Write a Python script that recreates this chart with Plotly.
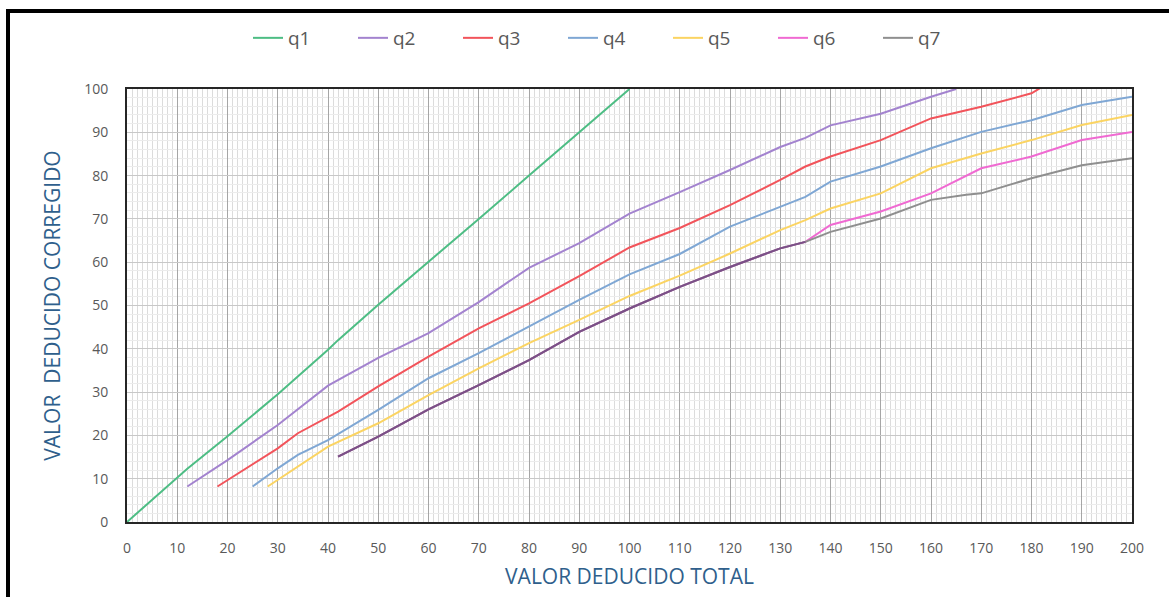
import plotly.graph_objects as go

# Curvas de valor deducido corregido (q = número de deducidos > 2)
q1_x = [0, 12, 20, 30, 40, 42, 50, 60, 70, 80, 90, 100]
q1_y = [0, 12.3, 19.8, 29.5, 39.8, 42, 50.2, 60, 70, 80, 90, 100]

q2_x = [12, 20, 30, 40, 50, 60, 70, 80, 90, 100, 110, 120, 130, 135, 140, 150, 160, 165]
q2_y = [8.2, 14.3, 22.4, 31.5, 37.9, 43.6, 50.8, 58.7, 64.4, 71.2, 76.2, 81.3, 86.6, 88.7, 91.6, 94.3, 98.2, 100]

q3_x = [18, 20, 28, 30, 34, 42, 50, 60, 70, 80, 90, 100, 110, 120, 130, 135, 140, 150, 160, 170, 180, 182]
q3_y = [8.2, 9.7, 15.5, 17.0, 20.5, 25.5, 31.3, 38.2, 44.7, 50.5, 56.8, 63.4, 67.9, 73.2, 79.0, 82.1, 84.4, 88.2, 93.2, 95.9, 99.0, 100.4]

q4_x = [25, 30, 34, 40, 50, 60, 70, 80, 90, 100, 110, 120, 130, 135, 140, 150, 160, 170, 180, 190, 200]
q4_y = [8.2, 12.4, 15.5, 18.9, 25.9, 33.2, 39.0, 45.1, 51.3, 57.2, 61.9, 68.2, 72.8, 75.1, 78.6, 82.1, 86.3, 90.1, 92.8, 96.3, 98.2]

q5_x = [28, 30, 34, 40, 50, 60, 70, 80, 90, 100, 110, 120, 130, 135, 140, 150, 160, 170, 180, 190, 200]
q5_y = [8.2, 9.7, 12.8, 17.4, 22.8, 29.3, 35.5, 41.3, 46.7, 52.2, 56.9, 62.0, 67.4, 69.7, 72.4, 75.9, 81.7, 85.1, 88.2, 91.7, 94.0]

q6_x = [42, 50, 60, 70, 80, 90, 100, 110, 120, 130, 135, 140, 150, 160, 170, 180, 190, 200]
q6_y = [15.1, 19.7, 26.0, 31.6, 37.4, 43.9, 49.3, 54.3, 58.9, 63.2, 64.7, 68.6, 71.7, 75.9, 81.7, 84.4, 88.2, 90.1]

q7_x = [42, 50, 60, 70, 80, 90, 100, 110, 120, 130, 135, 140, 150, 160, 167, 170, 180, 190, 200]
q7_y = [15.1, 19.7, 26.0, 31.6, 37.4, 43.9, 49.3, 54.3, 58.9, 63.2, 64.7, 67.0, 70.1, 74.4, 75.6, 75.9, 79.4, 82.4, 84.0]

series = [
    ("q1", q1_x, q1_y, "#4dbd84"),
    ("q2", q2_x, q2_y, "#a383cf"),
    ("q3", q3_x, q3_y, "#f2545b"),
    ("q4", q4_x, q4_y, "#7fa7d4"),
    ("q5", q5_x, q5_y, "#fbd462"),
    ("q6", q6_x, q6_y, "#f06ad2"),
    ("q7", q7_x, q7_y, "#8f8f8f"),
]

x_ticks = list(range(0, 201, 10))
y_ticks = list(range(0, 101, 10))

fig = go.Figure()
for name, xs, ys, color in series:
    fig.add_trace(go.Scatter(x=xs, y=ys, mode="lines", name=name,
                             line=dict(color=color, width=2)))

# tramo común de q6 y q7 (superpuestas)
shared = [(x, y) for x, y in zip(q7_x, q7_y) if x <= 135]
fig.add_trace(go.Scatter(x=[p[0] for p in shared], y=[p[1] for p in shared],
                         mode="lines", showlegend=False, hoverinfo="skip",
                         line=dict(color="#7b4f88", width=2)))

tick_font = dict(family="Open Sans, sans-serif", size=14, color="#595959")
title_font = dict(family="Open Sans, sans-serif", size=21, color="#2f5f8c")

L, R, T, B = 127, 37, 89, 75
PW, PH = 1169 - L - R, 597 - T - B


def px_x(px):
    return (px - L) / PW


def px_y(py):
    return (597 - B - py) / PH


fig.update_layout(
    width=1169, height=597,
    margin=dict(l=L, r=R, t=T, b=B, autoexpand=False),
    paper_bgcolor="white", plot_bgcolor="white",
    font=dict(family="Open Sans, sans-serif"),
    legend=dict(orientation="h", x=px_x(248), xanchor="left", y=px_y(38), yanchor="middle",
                font=dict(size=19, color="#595959"),
                entrywidth=60, entrywidthmode="pixels",
                bgcolor="rgba(0,0,0,0)"),
    xaxis=dict(
        range=[0, 200], tickvals=x_ticks, ticks="outside", ticklen=12,
        tickcolor="rgba(0,0,0,0)", tickfont=tick_font,
        showgrid=True, gridcolor="#a6a6a6", gridwidth=1,
        minor=dict(dtick=1, tick0=0, showgrid=True, gridcolor="#dcdcdc", gridwidth=1),
        showline=True, linecolor="#262626", linewidth=2, mirror=True,
        zeroline=False,
        title=dict(text="VALOR DEDUCIDO TOTAL", font=title_font, standoff=14),
    ),
    yaxis=dict(
        range=[0, 100], tickvals=y_ticks, ticks="outside", ticklen=14,
        tickcolor="rgba(0,0,0,0)", tickfont=tick_font,
        showgrid=True, gridcolor="#c8c8c8", gridwidth=1,
        minor=dict(dtick=2, tick0=0, showgrid=True, gridcolor="#ececec", gridwidth=1),
        showline=True, linecolor="#262626", linewidth=2, mirror=True,
        zeroline=False,
        title=dict(text="VALOR  DEDUCIDO CORREGIDO", font=title_font, standoff=18),
    ),
    shapes=[
        dict(type="line", xref="paper", yref="paper",
             x0=px_x(8), x1=px_x(8), y0=px_y(9), y1=px_y(600),
             line=dict(color="black", width=4)),
        dict(type="line", xref="paper", yref="paper",
             x0=px_x(6), x1=px_x(1172), y0=px_y(11), y1=px_y(11),
             line=dict(color="black", width=4)),
    ],
)

fig.write_html("out.html")
